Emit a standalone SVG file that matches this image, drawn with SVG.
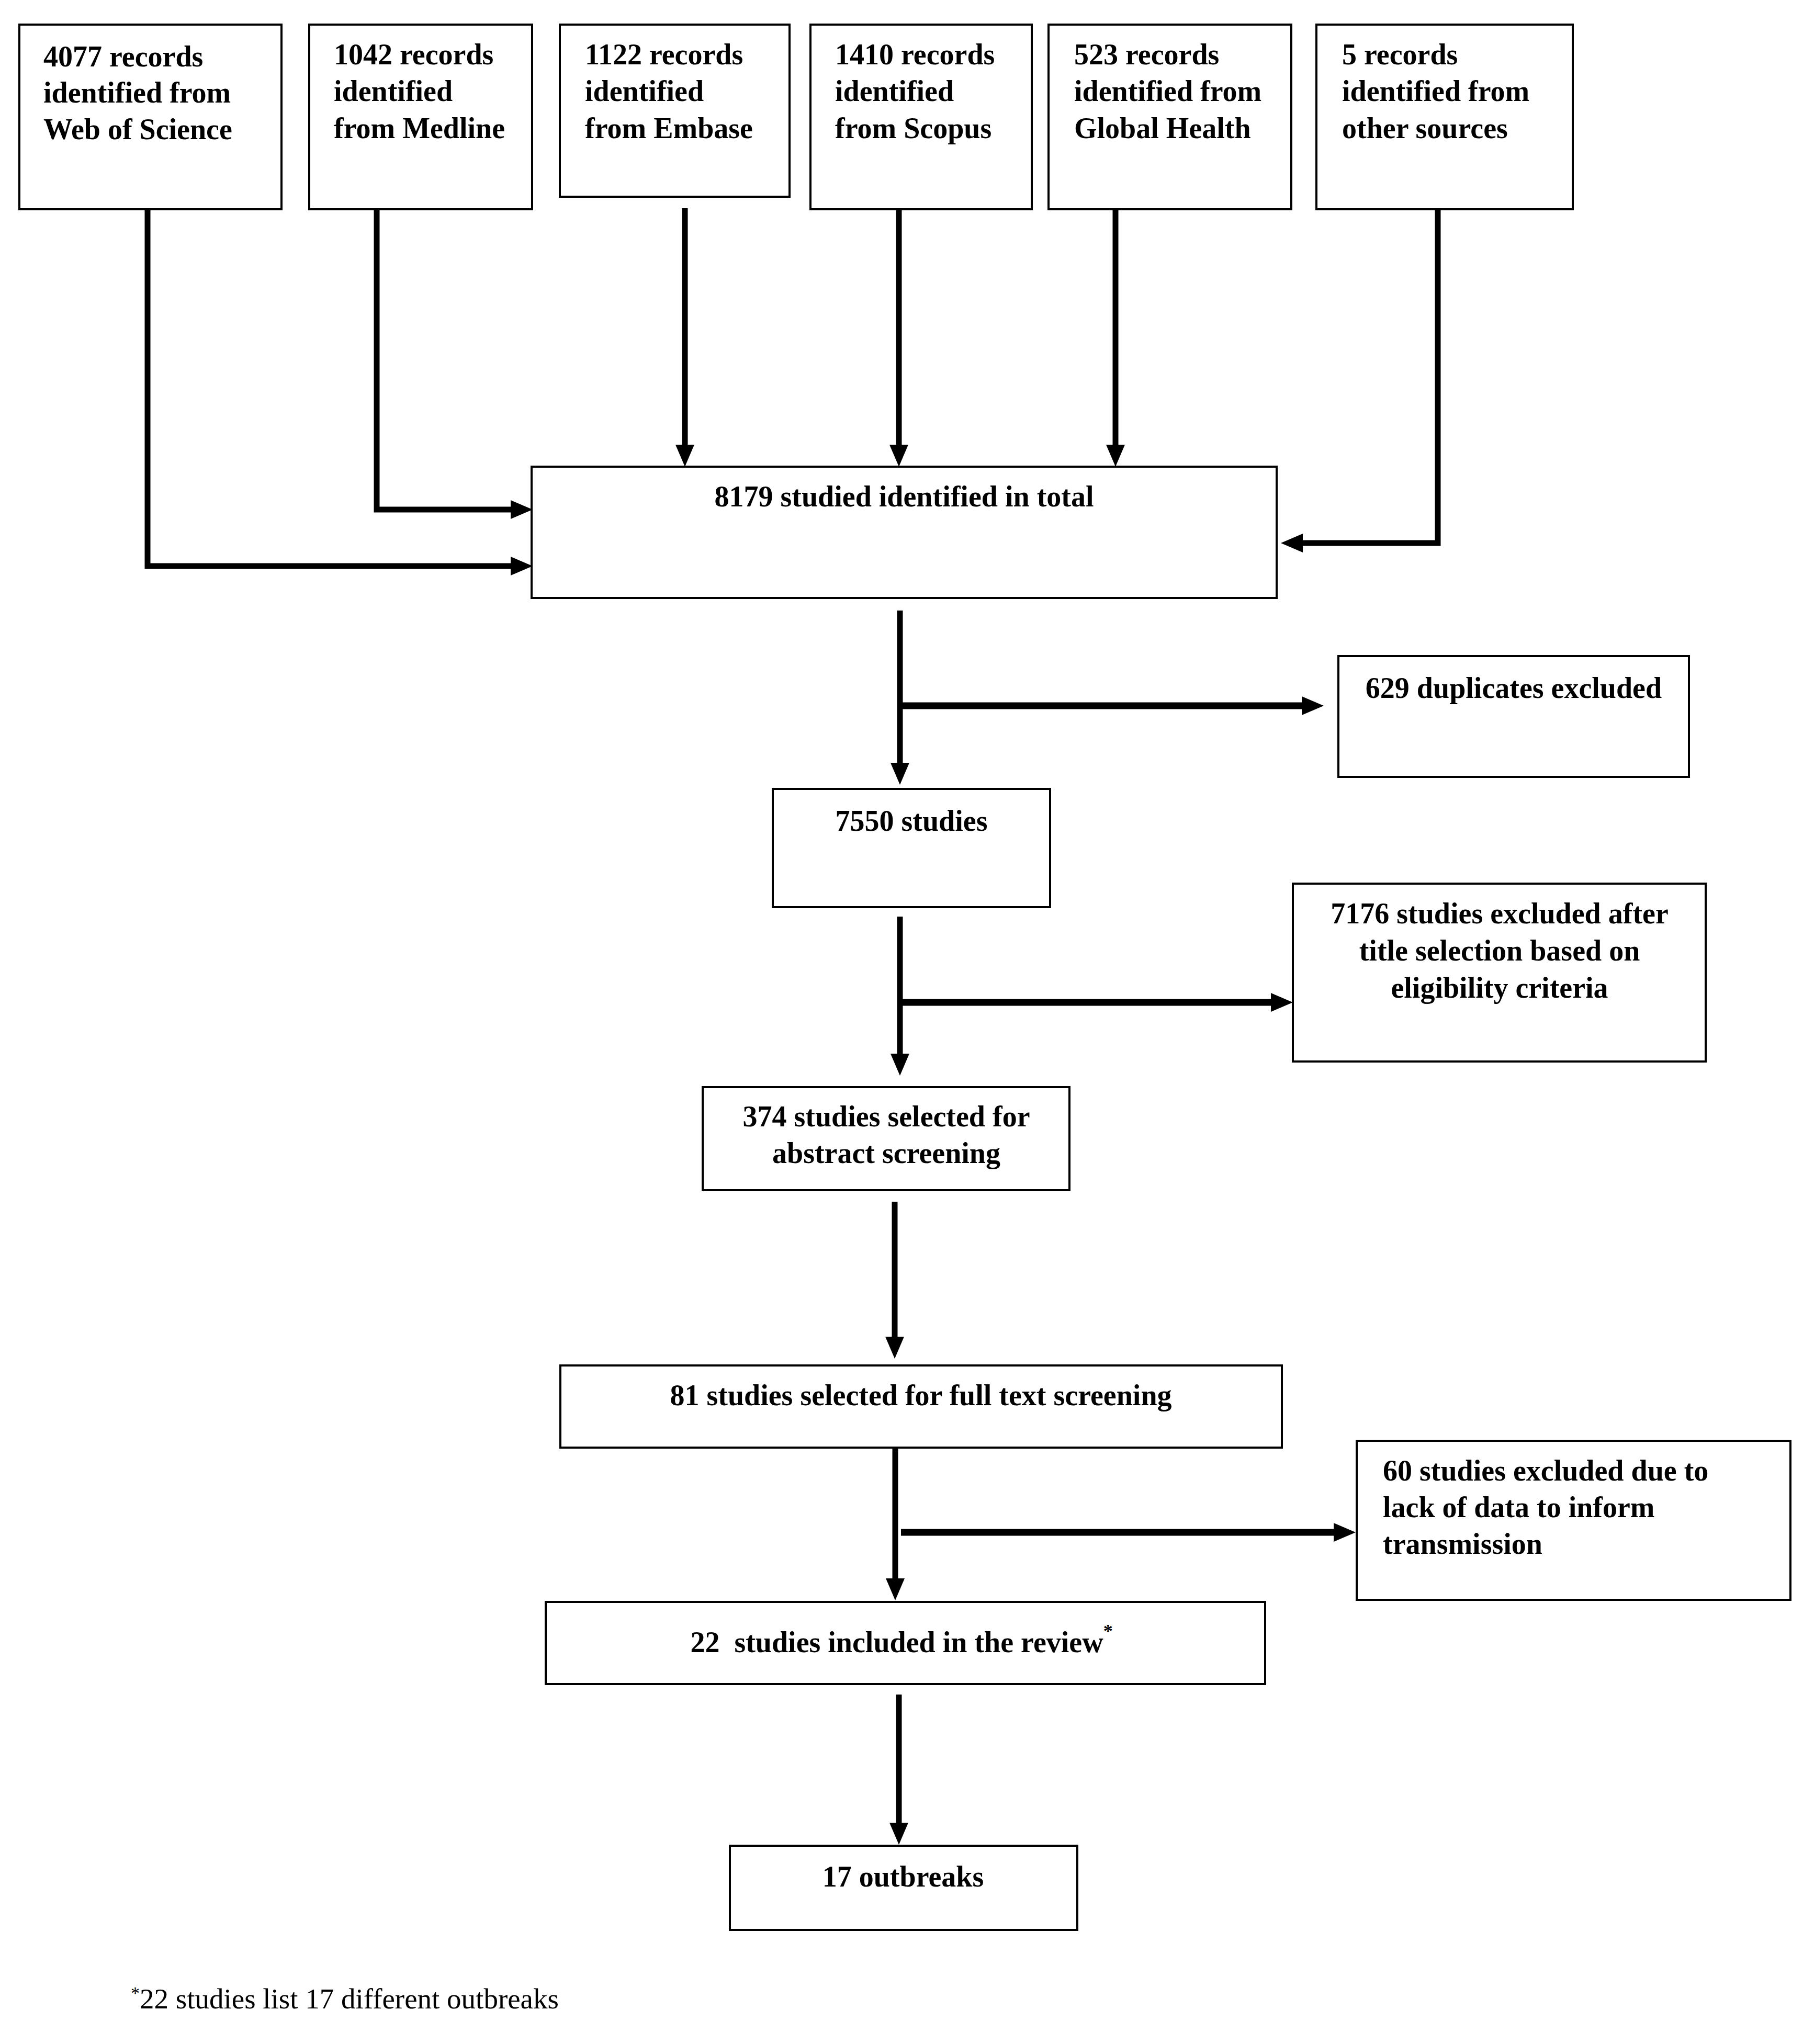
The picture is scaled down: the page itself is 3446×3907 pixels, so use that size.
<svg xmlns="http://www.w3.org/2000/svg" width="3446" height="3907" viewBox="0 0 3446 3907">
<style>
.box{fill:#fff;stroke:#000;stroke-width:4}
.t{font-family:"Liberation Serif","Times New Roman",serif;font-size:56px;font-weight:bold;fill:#000}
.c{text-anchor:middle}
.ln{fill:none;stroke:#000;stroke-width:11;marker-end:url(#ah)}
.br{fill:none;stroke:#000;stroke-width:13;marker-end:url(#ah)}
.fn{font-family:"Liberation Serif","Times New Roman",serif;font-size:55px;fill:#000}
</style>
<defs>
<marker id="ah" markerUnits="userSpaceOnUse" markerWidth="42" markerHeight="36" viewBox="0 0 42 36" refX="2" refY="18" orient="auto">
<path d="M0,0 L42,18 L0,36 z" fill="#000"/>
</marker>
</defs>
<rect width="3446" height="3907" fill="#fff"/>
<g id="connectors">
<path class="ln" d="M282,400 V1082 H978"/>
<path class="ln" d="M720,400 V974 H978"/>
<path class="ln" d="M1309,398 V852"/>
<path class="ln" d="M1718,400 V852"/>
<path class="ln" d="M2132,400 V852"/>
<path class="ln" d="M2748,400 V1038 H2488"/>
<path class="ln" d="M1720,1167 V1460"/>
<path class="br" d="M1720,1349 H2490"/>
<path class="ln" d="M1720,1752 V2016"/>
<path class="br" d="M1720,1916 H2431"/>
<path class="ln" d="M1710,2297 V2557"/>
<path class="ln" d="M1711,2765 V3019"/>
<path class="br" d="M1722,2929 H2551"/>
<path class="ln" d="M1718,3239 V3486"/>
</g>
<g id="n_wos">
<rect class="box" x="37" y="47" width="501" height="353"/>
<text class="t" x="83" y="127">4077 records</text>
<text class="t" x="83" y="196">identified from</text>
<text class="t" x="83" y="266">Web of Science</text>
</g>
<g id="n_medline">
<rect class="box" x="591" y="47" width="426" height="353"/>
<text class="t" x="638" y="123">1042 records</text>
<text class="t" x="638" y="193">identified</text>
<text class="t" x="638" y="264">from Medline</text>
</g>
<g id="n_embase">
<rect class="box" x="1070" y="47" width="439" height="329"/>
<text class="t" x="1118" y="123">1122 records</text>
<text class="t" x="1118" y="193">identified</text>
<text class="t" x="1118" y="264">from Embase</text>
</g>
<g id="n_scopus">
<rect class="box" x="1549" y="47" width="423" height="353"/>
<text class="t" x="1596" y="123">1410 records</text>
<text class="t" x="1596" y="193">identified</text>
<text class="t" x="1596" y="264">from Scopus</text>
</g>
<g id="n_gh">
<rect class="box" x="2004" y="47" width="464" height="353"/>
<text class="t" x="2053" y="123">523 records</text>
<text class="t" x="2053" y="193">identified from</text>
<text class="t" x="2053" y="264">Global Health</text>
</g>
<g id="n_other">
<rect class="box" x="2516" y="47" width="490" height="353"/>
<text class="t" x="2565" y="123">5 records</text>
<text class="t" x="2565" y="193">identified from</text>
<text class="t" x="2565" y="264">other sources</text>
</g>
<g id="n_total">
<rect class="box" x="1016" y="892" width="1424" height="251"/>
<text class="t c" x="1728" y="968">8179 studied identified in total</text>
</g>
<g id="n_dup">
<rect class="box" x="2558" y="1254" width="670" height="231"/>
<text class="t c" x="2893" y="1334">629 duplicates excluded</text>
</g>
<g id="n_7550">
<rect class="box" x="1477" y="1508" width="530" height="226"/>
<text class="t c" x="1742" y="1588">7550 studies</text>
</g>
<g id="n_7176">
<rect class="box" x="2471" y="1689" width="789" height="340"/>
<text class="t c" x="2866" y="1765">7176 studies excluded after</text>
<text class="t c" x="2866" y="1836">title selection based on</text>
<text class="t c" x="2866" y="1907">eligibility criteria</text>
</g>
<g id="n_374">
<rect class="box" x="1343" y="2078" width="701" height="197"/>
<text class="t c" x="1694" y="2153">374 studies selected for</text>
<text class="t c" x="1694" y="2223">abstract screening</text>
</g>
<g id="n_81">
<rect class="box" x="1071" y="2610" width="1379" height="157"/>
<text class="t c" x="1760" y="2686">81 studies selected for full text screening</text>
</g>
<g id="n_60">
<rect class="box" x="2593" y="2754" width="829" height="304"/>
<text class="t" x="2643" y="2830">60 studies excluded due to</text>
<text class="t" x="2643" y="2900">lack of data to inform</text>
<text class="t" x="2643" y="2970">transmission</text>
</g>
<g id="n_22">
<rect class="box" x="1043" y="3062" width="1375" height="157"/>
<text class="t c" x="1723" y="3158" xml:space="preserve">22  studies included in the review<tspan font-size="36" dy="-28">*</tspan></text>
</g>
<g id="n_17">
<rect class="box" x="1395" y="3528" width="664" height="161"/>
<text class="t c" x="1726" y="3606">17 outbreaks</text>
</g>
<g id="footnote">
<text class="fn" x="250" y="3839"><tspan font-size="34" dy="-18">*</tspan><tspan dy="18">22 studies list 17 different outbreaks</tspan></text>
</g>
</svg>
